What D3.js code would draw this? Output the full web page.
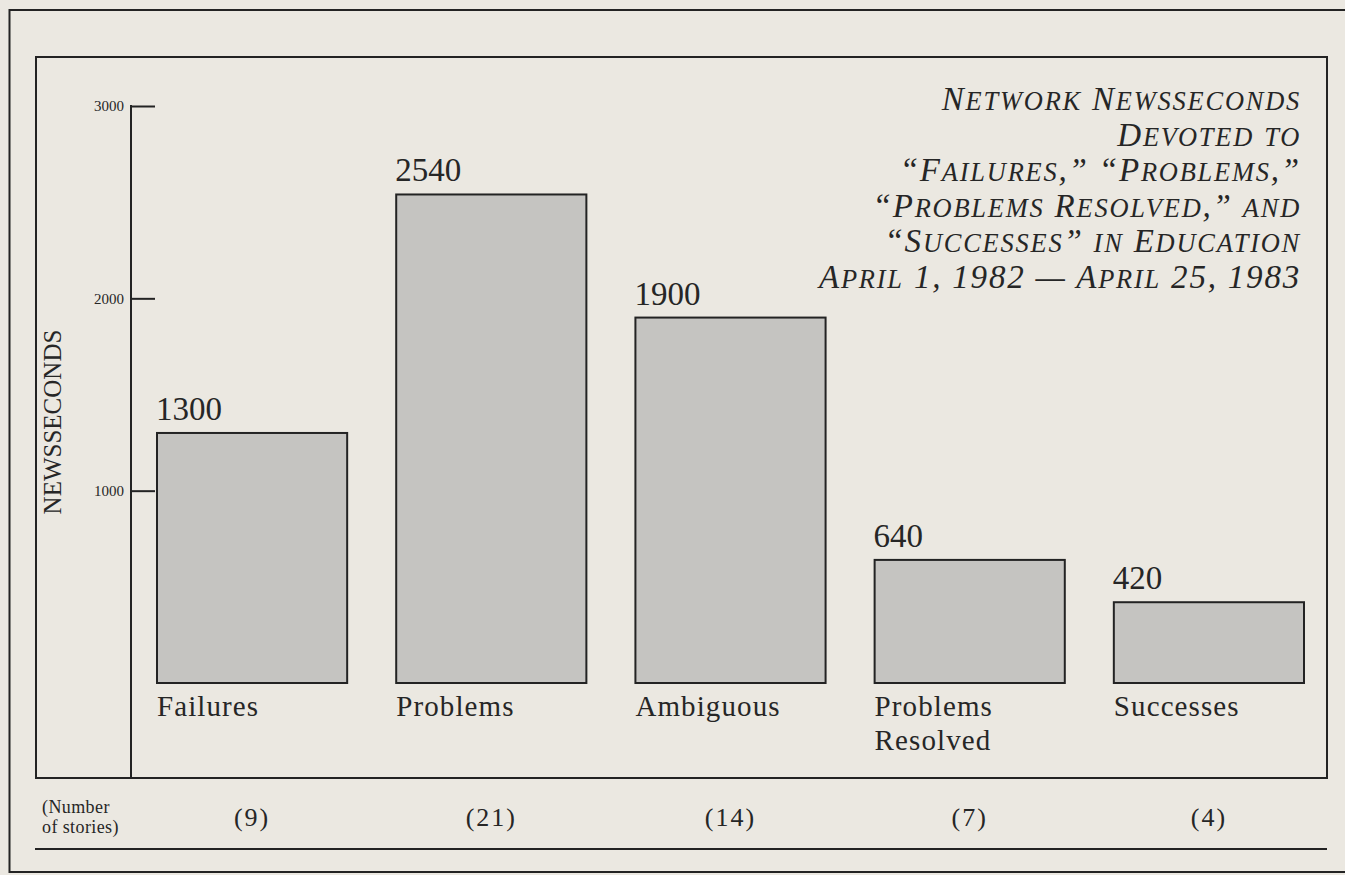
<!DOCTYPE html>
<html>
<head>
<meta charset="utf-8">
<script src="https://cdn.jsdelivr.net/npm/d3@7/dist/d3.min.js"></script>
<style>
  html, body { margin: 0; padding: 0; background: #ebe8e1; }
  svg { display: block; }
  text { font-family: "Liberation Serif", "Times New Roman", serif; fill: #262626; }
</style>
</head>
<body>
<svg id="chart" width="1345" height="875"></svg>
<script>
// ---- data ----
const categories = ["Failures", "Problems", "Ambiguous", "Problems Resolved", "Successes"];
const categoryLines = [["Failures"], ["Problems"], ["Ambiguous"], ["Problems", "Resolved"], ["Successes"]];
const values = [1300, 2540, 1900, 640, 420];
const stories = [9, 21, 14, 7, 4];
const yTicks = [1000, 2000, 3000];
const titleLines = [
  "Network Newsseconds",
  "Devoted to",
  "\u201CFailures,\u201D \u201CProblems,\u201D",
  "\u201CProblems Resolved,\u201D and",
  "\u201CSuccesses\u201D in Education",
  "April 1, 1982 \u2014 April 25, 1983"
];
const yTitle = "NEWSSECONDS";
const storiesTitle = ["(Number", "of stories)"];

// ---- layout ----
const ink = "#232323";
const svg = d3.select("#chart");
const W = 1345, H = 875;
const inner = { left: 36, top: 57, right: 1327, bottom: 778 };
const ruleY = 849;

svg.append("rect").attr("width", W).attr("height", H).attr("fill", "#ebe8e1");

// outer frame (right side runs off the page)
svg.append("path")
  .attr("d", `M${W + 5},10 H9.5 V872 H${W + 5}`)
  .attr("fill", "none").attr("stroke", ink).attr("stroke-width", 2);

// inner frame
svg.append("rect")
  .attr("x", inner.left).attr("y", inner.top)
  .attr("width", inner.right - inner.left).attr("height", inner.bottom - inner.top)
  .attr("fill", "none").attr("stroke", ink).attr("stroke-width", 2);

// lower rule
svg.append("line")
  .attr("x1", inner.left - 1).attr("x2", inner.right)
  .attr("y1", ruleY).attr("y2", ruleY)
  .attr("stroke", ink).attr("stroke-width", 2);

// scales
const x = d3.scaleBand().domain(categories).range([157, 1304]).paddingInner(0.205).paddingOuter(0);
const y = d3.scaleLinear().domain([0, 3000]).range([683, 106]);

// y axis
const axisX = 131;
svg.append("line")
  .attr("x1", axisX).attr("x2", axisX)
  .attr("y1", y(3000) - 1).attr("y2", inner.bottom)
  .attr("stroke", ink).attr("stroke-width", 2);

const yAxis = d3.axisLeft(y).tickValues(yTicks).tickSizeInner(-24).tickSizeOuter(0).tickPadding(7).tickFormat(d3.format("d"));
const gy = svg.append("g").attr("transform", `translate(${axisX},0)`).call(yAxis);
gy.select(".domain").remove();
gy.selectAll(".tick line").attr("stroke", ink).attr("stroke-width", 2);
gy.selectAll(".tick text")
  .attr("font-family", "Liberation Serif, serif")
  .attr("font-size", 15).attr("fill", "#444");

// y title
svg.append("text")
  .attr("transform", `translate(61,422) rotate(-90)`)
  .attr("text-anchor", "middle")
  .attr("font-size", 25)
  .text(yTitle);

// bars
const data = categories.map((c, i) => ({ c, v: values[i], lines: categoryLines[i], n: stories[i] }));
svg.append("g").selectAll("rect").data(data).join("rect")
  .attr("x", d => x(d.c)).attr("width", x.bandwidth())
  .attr("y", d => y(d.v)).attr("height", d => y(0) - y(d.v))
  .attr("fill", "#c5c4c1").attr("stroke", ink).attr("stroke-width", 2);

// value labels
svg.append("g").selectAll("text").data(data).join("text")
  .attr("x", d => x(d.c) - 1).attr("y", d => y(d.v) - 13)
  .attr("font-size", 33)
  .text(d => d.v);

// category labels
const cat = svg.append("g").selectAll("text").data(data).join("text")
  .attr("x", d => x(d.c)).attr("y", 716)
  .attr("font-size", 29).attr("letter-spacing", 1.1);
cat.selectAll("tspan").data(d => d.lines.map(l => ({ l, x: x(d.c) }))).join("tspan")
  .attr("x", t => t.x).attr("dy", (t, i) => i === 0 ? 0 : 34)
  .text(t => t.l);

// number of stories
svg.append("g").selectAll("text").data(data).join("text")
  .attr("x", d => x(d.c) + x.bandwidth() / 2).attr("y", 826)
  .attr("text-anchor", "middle")
  .attr("font-size", 26).attr("letter-spacing", 2)
  .text(d => `(${d.n})`);

svg.append("text").attr("x", 42).attr("y", 813).attr("font-size", 18).attr("letter-spacing", 0.4).attr("fill", "#333")
  .selectAll("tspan").data(storiesTitle).join("tspan")
  .attr("x", 42).attr("dy", (d, i) => i === 0 ? 0 : 20)
  .text(d => d);

// title: italic small caps (lowercase letters rendered as smaller capitals)
const titleG = svg.append("g");
titleLines.forEach((line, i) => {
  const t = titleG.append("text")
    .attr("x", 1301).attr("y", 110 + i * 35.6)
    .attr("text-anchor", "end")
    .attr("font-style", "italic")
    .attr("font-size", 33)
    .attr("letter-spacing", 1.8)
    .attr("fill", "#2a2a2a");
  const runs = line.match(/[a-z]+|[^a-z]+/g);
  runs.forEach(r => {
    const small = /^[a-z]/.test(r);
    t.append("tspan")
      .attr("font-size", small ? "0.8em" : null)
      .text(small ? r.toUpperCase() : r);
  });
});
</script>
</body>
</html>
